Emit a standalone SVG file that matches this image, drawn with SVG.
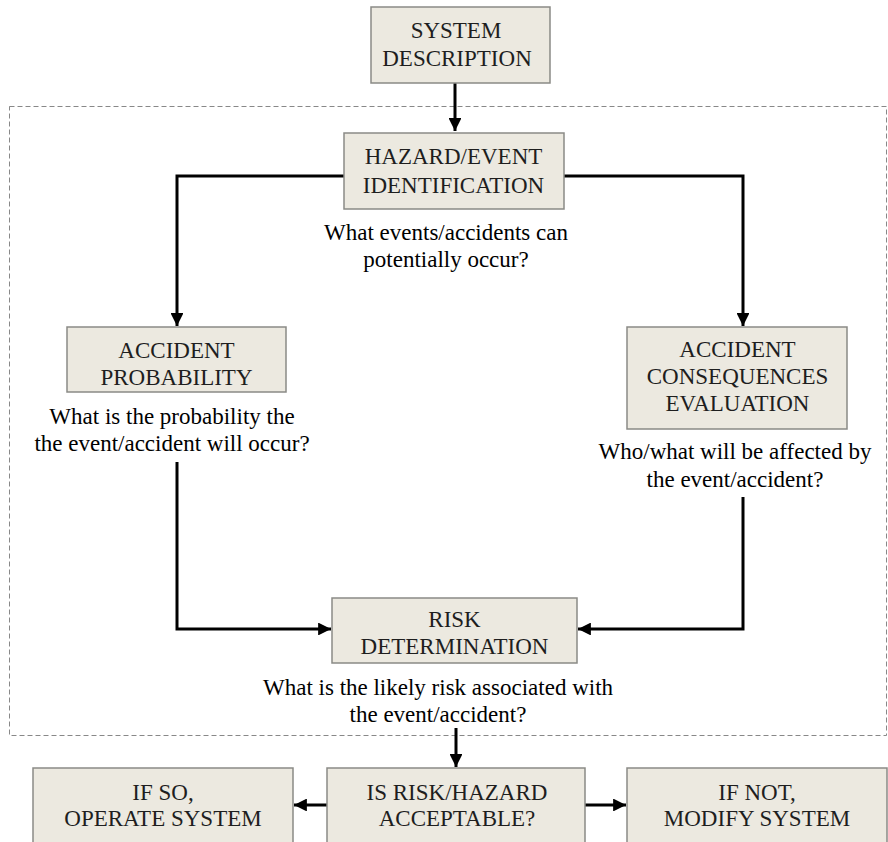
<svg xmlns="http://www.w3.org/2000/svg" width="888" height="842" viewBox="0 0 888 842">
<style>
.box{fill:#ECE9E0;stroke:#8a8a86;stroke-width:1.5}
.lbl{font-family:"Liberation Serif","Times New Roman",serif;font-size:23px;fill:#1e1e1e;text-anchor:middle}
.q{font-family:"Liberation Serif","Times New Roman",serif;font-size:23px;fill:#000;text-anchor:middle}
.con{fill:none;stroke:#000;stroke-width:3}
.dash{fill:none;stroke:#888;stroke-width:1;stroke-dasharray:5,3}
</style>
<defs>
<marker id="ah" viewBox="0 0 10 10" refX="10" refY="5" markerWidth="4.3" markerHeight="4.3" markerUnits="strokeWidth" orient="auto">
<path d="M0,0 L10,5 L0,10 z" fill="#000"/>
</marker>
</defs>
<rect class="dash" x="9.5" y="106.5" width="877" height="629"/>
<g id="connectors">
<path class="con" d="M455,83 L455,131" marker-end="url(#ah)"/>
<path class="con" d="M344,176 L177,176 L177,326" marker-end="url(#ah)"/>
<path class="con" d="M564,176 L743,176 L743,326" marker-end="url(#ah)"/>
<path class="con" d="M177,462 L177,629 L331,629" marker-end="url(#ah)"/>
<path class="con" d="M743,497 L743,629 L578,629" marker-end="url(#ah)"/>
<path class="con" d="M456,728 L456,767" marker-end="url(#ah)"/>
<path class="con" d="M331,805 L294,805" marker-end="url(#ah)"/>
<path class="con" d="M585,805 L626,805" marker-end="url(#ah)"/>
</g>
<g id="system">
<rect class="box" x="371" y="7" width="179" height="76"/>
<text class="lbl" x="456" y="38">SYSTEM</text>
<text class="lbl" x="457" y="66">DESCRIPTION</text>
</g>
<g id="hazard">
<rect class="box" x="344" y="133" width="220" height="76"/>
<text class="lbl" x="453.5" y="164">HAZARD/EVENT</text>
<text class="lbl" x="453.5" y="193">IDENTIFICATION</text>
<text class="q" x="446" y="240">What events/accidents can</text>
<text class="q" x="446" y="267">potentially occur?</text>
</g>
<g id="probability">
<rect class="box" x="67" y="327" width="219" height="65"/>
<text class="lbl" x="176.5" y="358">ACCIDENT</text>
<text class="lbl" x="176.5" y="385">PROBABILITY</text>
<text class="q" x="172" y="424">What is the probability the</text>
<text class="q" x="172" y="451">the event/accident will occur?</text>
</g>
<g id="consequences">
<rect class="box" x="627" y="327" width="220" height="102"/>
<text class="lbl" x="737.5" y="357">ACCIDENT</text>
<text class="lbl" x="737.5" y="384">CONSEQUENCES</text>
<text class="lbl" x="737.5" y="411">EVALUATION</text>
<text class="q" x="735" y="459">Who/what will be affected by</text>
<text class="q" x="735" y="487">the event/accident?</text>
</g>
<g id="risk">
<rect class="box" x="332" y="598" width="245" height="65"/>
<text class="lbl" x="454.5" y="627">RISK</text>
<text class="lbl" x="454.5" y="654">DETERMINATION</text>
<text class="q" x="438" y="695">What is the likely risk associated with</text>
<text class="q" x="438" y="722">the event/accident?</text>
</g>
<g id="operate">
<rect class="box" x="33" y="768" width="260" height="80"/>
<text class="lbl" x="163" y="800">IF SO,</text>
<text class="lbl" x="163" y="826">OPERATE SYSTEM</text>
</g>
<g id="acceptable">
<rect class="box" x="327" y="768" width="258" height="80"/>
<text class="lbl" x="457" y="800">IS RISK/HAZARD</text>
<text class="lbl" x="457" y="826">ACCEPTABLE?</text>
</g>
<g id="modify">
<rect class="box" x="627" y="768" width="260" height="80"/>
<text class="lbl" x="757" y="800">IF NOT,</text>
<text class="lbl" x="757" y="826">MODIFY SYSTEM</text>
</g>
</svg>
